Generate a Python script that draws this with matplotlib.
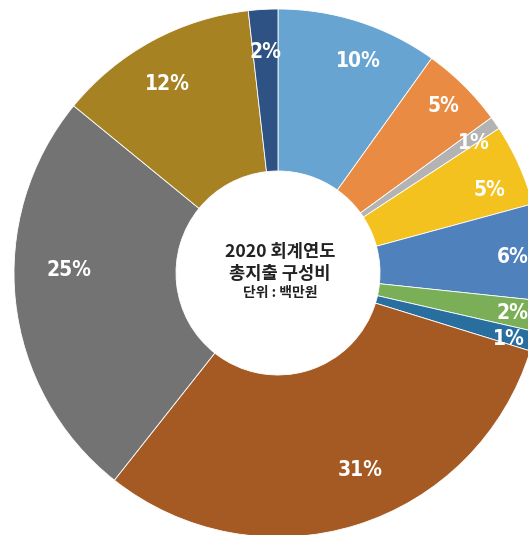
import matplotlib
matplotlib.use('Agg')
import matplotlib.pyplot as plt
from matplotlib import font_manager
import numpy as np

# ── data (clockwise from 12 o'clock) ─────────────────────────────────────
shares = [9.9, 5.1, 0.8, 5.0, 5.9, 1.9, 1.2, 30.9, 25.3, 12.3, 1.8]
pct_labels = ['10%', '5%', '1%', '5%', '6%', '2%', '1%', '31%', '25%', '12%', '2%']
colors = ['#67A4D1', '#E98B42', '#B3B3B3', '#F4C21F', '#4F81BD', '#7BAF57',
          '#286E9E', '#A65A23', '#737373', '#A68223', '#2D5283']

# label placement tweaks (fraction of radius, angle shift in deg clockwise)
label_r = [0.86, 0.89, 0.89, 0.86, 0.89, 0.90, 0.91, 0.81, 0.79, 0.83, 0.84]
label_shift = [3, 0, 1, 2.7, 0.6, 0.2, 0.9, -5.5, 7, -1.7, 0]

W, H = 528, 535
cx, cy = 278, H - 273
R, r_hole = 264, 102

names = sorted({f.name for f in font_manager.fontManager.ttflist})
print([n for n in names if 'Narrow' in n or 'Condensed' in n or 'Cond' in n])
print([(f.name, f.stretch) for f in font_manager.fontManager.ttflist if f.stretch != 'normal'][:20])

fig = plt.figure(figsize=(W / 100, H / 100), dpi=100)
ax = fig.add_axes([0, 0, 1, 1])

wedges, _ = ax.pie(shares, colors=colors, startangle=90, counterclock=False,
                   center=(cx, cy), radius=R,
                   wedgeprops=dict(width=R - r_hole, edgecolor='white', linewidth=0.6))

ax.set_xlim(0, W)
ax.set_ylim(0, H)
ax.set_aspect('equal')
ax.axis('off')

for w, lab, lr, sh in zip(wedges, pct_labels, label_r, label_shift):
    mid = np.deg2rad((w.theta1 + w.theta2) / 2 - sh)
    ax.text(cx + lr * R * np.cos(mid), cy + lr * R * np.sin(mid), lab,
            ha='center', va='center', color='white', fontsize=15,
            fontweight='bold', fontstretch='condensed', family='DejaVu Sans')

kfont = ['Noto Sans CJK KR', 'DejaVu Sans']
ax.text(280, H - 252, '2020 회계연도', ha='center', va='center', fontsize=12.7,
        fontweight='semibold', color='#222222', family=kfont)
ax.text(280, H - 274, '총지출 구성비', ha='center', va='center', fontsize=12.7,
        fontweight='semibold', color='#222222', family=kfont)
ax.text(280, H - 293, '단위 : 백만원', ha='center', va='center', fontsize=10,
        fontweight='bold', color='#222222', family=kfont)

plt.savefig('out.png', dpi=100)
plt.close()
